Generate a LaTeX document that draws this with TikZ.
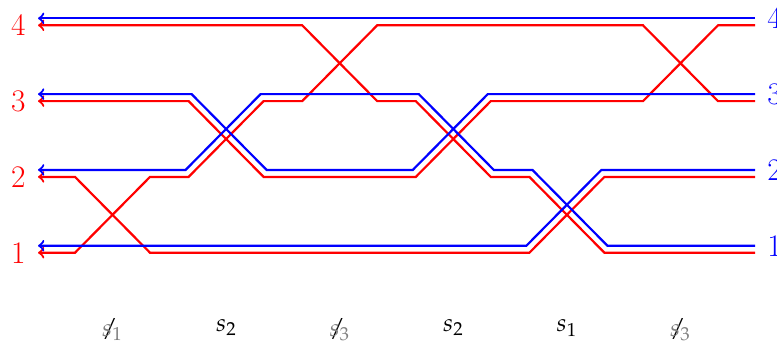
\documentclass[tikz,border=0pt]{standalone}
\usepackage{mathpazo}
\usetikzlibrary{arrows}
\tikzset{
  rstrand/.style={draw=red, line width=1.1pt, <-, >=to},
  bstrand/.style={draw=blue, line width=1.1pt, <-, >=to},
  leftlab/.style={text=red, anchor=east, inner sep=0pt, font=\fontsize{15.7}{18}\selectfont},
  rightlab/.style={text=blue, anchor=west, inner sep=0pt, font=\fontsize{15.7}{18}\selectfont},
  genlab/.style={anchor=base, inner sep=0pt, font=\fontsize{12.4}{15}\selectfont},
}
\newcommand{\crossedgen}[1]{\rlap{$/$}{\color{gray}s_{#1}}}
\begin{document}
\begin{tikzpicture}[x=0.5pt,y=-0.5pt]
\useasboundingbox (0,0) rectangle (777,345);
% levels
\def\Ba{245.7}\def\Bb{169.9}\def\Bc{94.1}\def\Bd{18.3}
\def\Ra{252.7}\def\Rb{176.9}\def\Rc{101.1}\def\Rd{25.3}
% red strands
\draw[rstrand] (38,\Ra) -- (75,\Ra) -- (150,\Rb) -- (188.6,\Rb) -- (263.6,\Rc) -- (302.2,\Rc) -- (377.2,\Rd) -- (643,\Rd) -- (718,\Rc) -- (755,\Rc);
\draw[rstrand] (38,\Rb) -- (75,\Rb) -- (150,\Ra) -- (529.4,\Ra) -- (604.4,\Rb) -- (755,\Rb);
\draw[rstrand] (38,\Rc) -- (188.6,\Rc) -- (263.6,\Rb) -- (415.8,\Rb) -- (490.8,\Rc) -- (643,\Rc) -- (718,\Rd) -- (755,\Rd);
\draw[rstrand] (38,\Rd) -- (302.2,\Rd) -- (377.2,\Rc) -- (415.8,\Rc) -- (490.8,\Rb) -- (529.4,\Rb) -- (604.4,\Ra) -- (755,\Ra);
% blue strands
\draw[bstrand] (38,\Ba) -- (526.4,\Ba) -- (601.4,\Bb) -- (755,\Bb);
\draw[bstrand] (38,\Bb) -- (185.6,\Bb) -- (260.6,\Bc) -- (418.8,\Bc) -- (493.8,\Bb) -- (532.4,\Bb) -- (607.4,\Ba) -- (755,\Ba);
\draw[bstrand] (38,\Bc) -- (191.6,\Bc) -- (266.6,\Bb) -- (412.8,\Bb) -- (487.8,\Bc) -- (755,\Bc);
\draw[bstrand] (38,\Bd) -- (755,\Bd);
% left labels
\node[leftlab] (L4) at (26,\Rd) {4};
\node[leftlab] (L3) at (26,\Rc) {3};
\node[leftlab] (L2) at (26,\Rb) {2};
\node[leftlab] (L1) at (26,\Ra) {1};
% right labels
\node[rightlab] (R4) at (767,\Bd) {4};
\node[rightlab] (R3) at (767,\Bc) {3};
\node[rightlab] (R2) at (767,\Bb) {2};
\node[rightlab] (R1) at (767,\Ba) {1};
% generator labels
\node[genlab] (g1) at (112.5,336) {$\crossedgen{1}$};
\node[genlab] (g2) at (226.5,331.5) {$s_2$};
\node[genlab] (g3) at (339.8,336) {$\crossedgen{3}$};
\node[genlab] (g4) at (453.4,331.5) {$s_2$};
\node[genlab] (g5) at (567,331.5) {$s_1$};
\node[genlab] (g6) at (680.5,336) {$\crossedgen{3}$};
\end{tikzpicture}
\end{document}
